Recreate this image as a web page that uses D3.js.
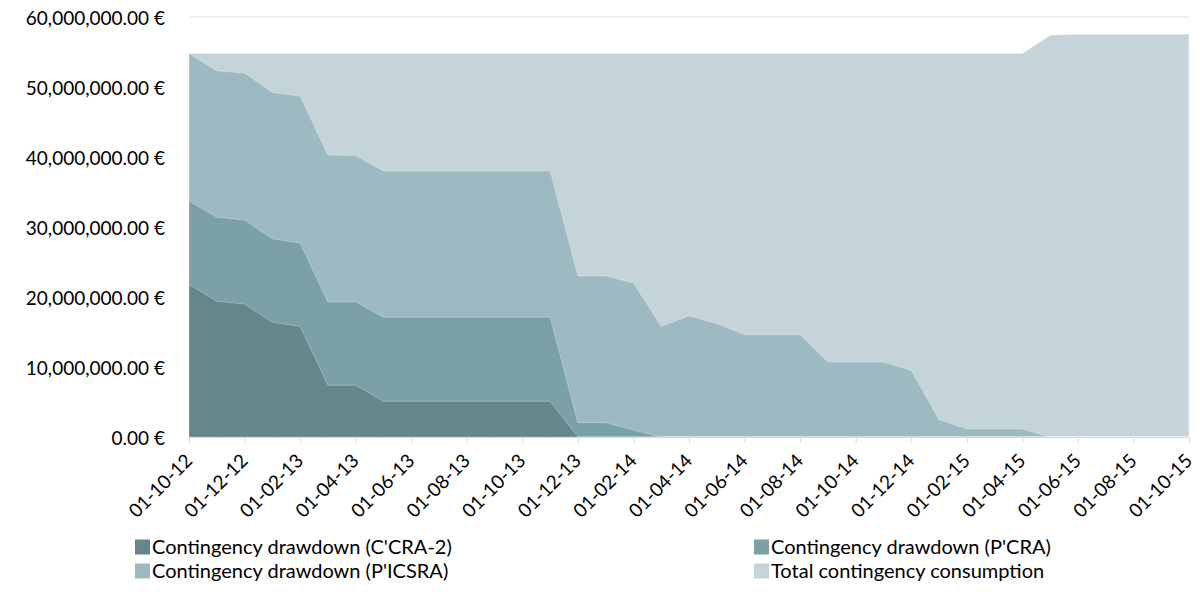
<!DOCTYPE html>
<html>
<head>
<meta charset="utf-8">
<script src="https://cdn.jsdelivr.net/npm/d3@7"></script>
<style>
  html, body { margin: 0; padding: 0; background: #fff; }
  svg { display: block; font-family: Lato, "Open Sans", sans-serif; }
</style>
</head>
<body>
<svg id="chart" width="1200" height="594"></svg>
<script>
// ---- Data (values in millions of €) ----
const months = [
  "01-10-12","01-11-12","01-12-12","01-01-13","01-02-13","01-03-13","01-04-13","01-05-13","01-06-13",
  "01-07-13","01-08-13","01-09-13","01-10-13","01-11-13","01-12-13","01-01-14","01-02-14","01-03-14",
  "01-04-14","01-05-14","01-06-14","01-07-14","01-08-14","01-09-14","01-10-14","01-11-14","01-12-14",
  "01-01-15","01-02-15","01-03-15","01-04-15","01-05-15","01-06-15","01-07-15","01-08-15","01-09-15","01-10-15"
];
const tickLabels = months.filter((d, i) => i % 2 === 0);
const yTicks = [0, 10, 20, 30, 40, 50, 60];

const totalConsumption = [
  54.8,54.8,54.8,54.8,54.8,54.8,54.8,54.8,54.8,54.8,54.8,54.8,54.8,54.8,54.8,54.8,54.8,54.8,
  54.8,54.8,54.8,54.8,54.8,54.8,54.8,54.8,54.8,54.8,54.8,54.8,54.8,57.4,57.55,57.55,57.55,57.55,57.55
];
const drawPICSRA = [
  54.8,52.3,52.0,49.2,48.7,40.3,40.2,38.0,38.0,38.0,38.0,38.0,38.0,38.0,23.0,23.0,22.0,15.8,
  17.3,16.2,14.6,14.6,14.6,10.7,10.7,10.7,9.5,2.5,1.14,1.14,1.14,0,0,0,0,0,0
];
const drawPCRA = [
  33.7,31.4,31.0,28.3,27.7,19.3,19.3,17.1,17.1,17.1,17.1,17.1,17.1,17.1,2.05,2.05,1.0,0,
  0,0,0,0,0,0,0,0,0,0,0,0,0,0,0,0,0,0,0
];
const drawCCRA2 = [
  21.8,19.4,19.0,16.4,15.8,7.4,7.4,5.1,5.1,5.1,5.1,5.1,5.1,5.1,0,0,0,0,
  0,0,0,0,0,0,0,0,0,0,0,0,0,0,0,0,0,0,0
];

const seriesNames = [
  "Contingency drawdown (C'CRA-2)",
  "Contingency drawdown (P'CRA)",
  "Contingency drawdown (P'ICSRA)",
  "Total contingency consumption"
];
const seriesColors = ["#65868b", "#7ba0a8", "#9dbac3", "#c4d4d9"];
const seriesValues = [drawCCRA2, drawPCRA, drawPICSRA, totalConsumption];

// ---- Layout ----
const svg = d3.select("#chart");
const plotLeft = 189, plotRight = 1189, plotTop = 17, plotBottom = 437;
const fontFam = "Lato, 'Open Sans', sans-serif";

const x = d3.scalePoint().domain(months).range([plotLeft, plotRight]);
const y = d3.scaleLinear().domain([0, 60]).range([plotBottom, plotTop]);

// gridlines (only the top one stays visible)
svg.append("g").selectAll("line").data(yTicks.filter(v => v > 0)).join("line")
  .attr("x1", plotLeft).attr("x2", plotRight)
  .attr("y1", d => y(d)).attr("y2", d => y(d))
  .attr("stroke", "#d9d9d9").attr("stroke-width", 1);

// areas: drawn back to front (overlapping, not stacked)
const area = d3.area()
  .x((d, i) => x(months[i]))
  .y0(y(0))
  .y1(d => y(d));

const order = [3, 2, 1, 0];
svg.append("g").selectAll("path").data(order).join("path")
  .attr("d", k => area(seriesValues[k]))
  .attr("fill", k => seriesColors[k])
  .attr("stroke", "rgba(255,255,255,0.35)")
  .attr("stroke-width", 0.8);

// y axis labels
const fmt = d3.format(",.2f");
const yAxis = d3.axisLeft(y).tickValues(yTicks).tickSize(0).tickPadding(0)
  .tickFormat(d => fmt(d * 1e6) + " €");
const gy = svg.append("g").attr("transform", `translate(165,0)`).call(yAxis);
gy.select(".domain").remove();
gy.selectAll("text").attr("font-size", 19).attr("fill", "#000")
  .attr("font-family", fontFam).attr("dy", "0.4em");

// x axis
const xAxis = d3.axisBottom(x).tickValues(tickLabels).tickSize(6).tickPadding(4);
const gx = svg.append("g").attr("transform", `translate(0,${plotBottom})`).call(xAxis);
gx.select(".domain").attr("stroke", "#d9d9d9").attr("d", `M${plotLeft},0.5H${plotRight}`);
gx.selectAll(".tick line").attr("stroke", "#d9d9d9");
gx.selectAll(".tick text")
  .attr("font-size", 19).attr("fill", "#000")
  .attr("font-family", fontFam)
  .attr("text-anchor", "end")
  .attr("dy", null)
  .attr("transform", "translate(4,25) rotate(-45)")
  .attr("x", 0).attr("y", 0);

// legend
const legendPos = [
  {x: 135, y: 547}, {x: 754, y: 547},
  {x: 135, y: 571}, {x: 754, y: 571}
];
const lg = svg.append("g").selectAll("g").data(seriesNames).join("g")
  .attr("transform", (d, i) => `translate(${legendPos[i].x},${legendPos[i].y})`);
lg.append("rect").attr("x", 0).attr("y", -7.5).attr("width", 15).attr("height", 15)
  .attr("fill", (d, i) => seriesColors[i]);
lg.append("text").attr("x", 17).attr("y", 0).attr("dy", "0.36em")
  .attr("font-family", fontFam)
  .attr("font-size", 20).attr("fill", "#000").text(d => d);
</script>
</body>
</html>
